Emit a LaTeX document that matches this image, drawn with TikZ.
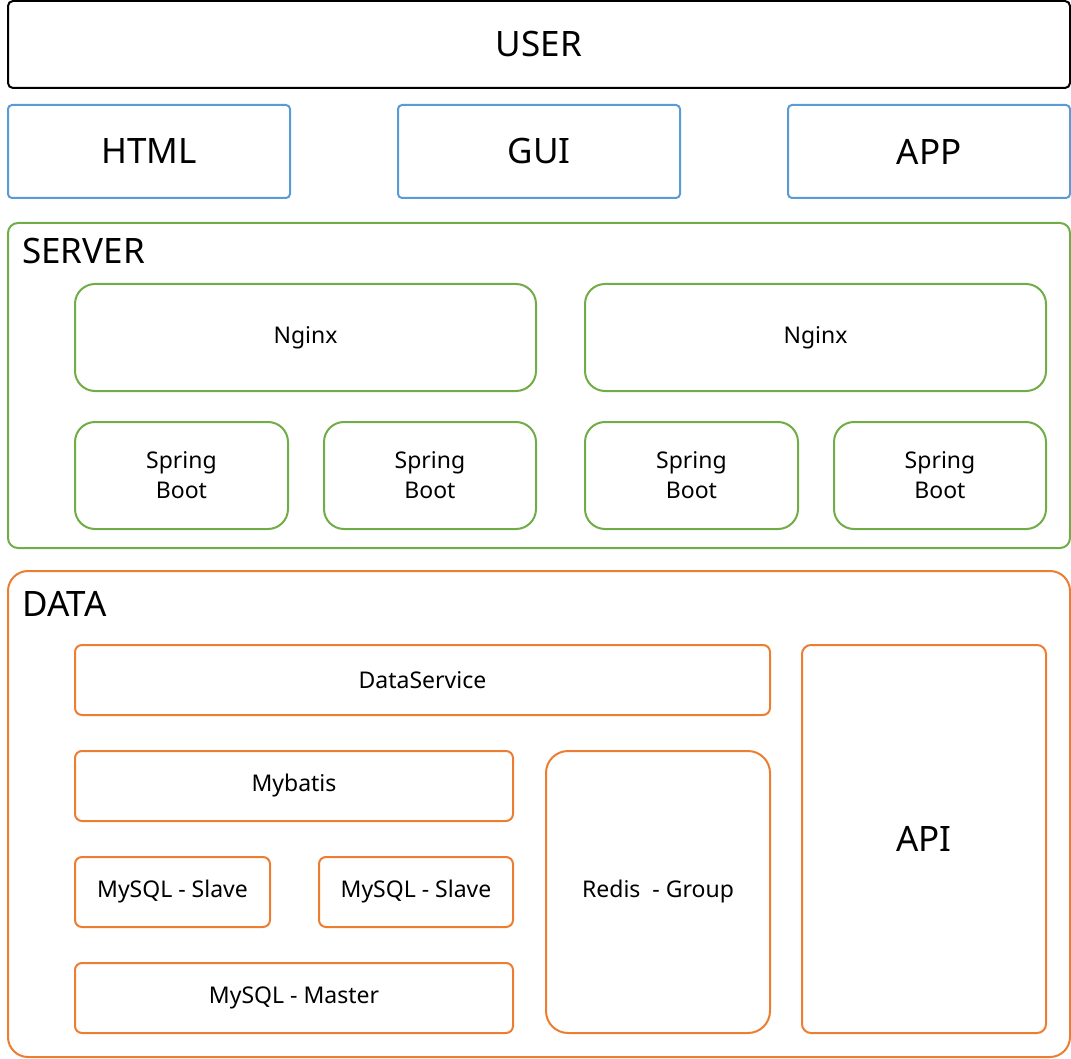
\documentclass[tikz,border=0pt]{standalone}
\usepackage{fontspec}
\setmainfont{Noto Sans}
\usetikzlibrary{positioning}
\definecolor{userblue}{HTML}{5B9BD5}
\definecolor{servgreen}{HTML}{70AD47}
\definecolor{dataorange}{HTML}{ED7D31}
\tikzset{
    layer/.style={
           rectangle,
           draw=black,
           line width=2pt,
           inner sep=0pt,
           text centered,
           font=\fontsize{35}{40}\selectfont,
           },
    client/.style={layer, draw=userblue, rounded corners=4pt},
    group/.style={layer, rounded corners=10pt},
    part/.style={
           rectangle,
           line width=2pt,
           inner sep=0pt,
           align=center,
           font=\fontsize{23}{30}\selectfont,
           },
    srv/.style={part, draw=servgreen, rounded corners=20pt},
    dat/.style={part, draw=dataorange, rounded corners=7pt},
    title/.style={anchor=west, inner sep=0pt, font=\fontsize{35}{40}\selectfont},
}

\begin{document}
\begin{tikzpicture}[x=1pt,y=-1pt]
 \useasboundingbox (0,0) rectangle (1071,1059);

 % user and clients
 \node[layer, rounded corners=5pt, minimum width=1062pt, minimum height=87pt]
   (USER) at (539,44.5) {USER};
 \node[client, minimum width=282pt, minimum height=93pt] (HTML) at (149,151.5) {HTML};
 \node[client, minimum width=282pt, minimum height=93pt] (GUI) at (539,151.5) {GUI};
 \node[client, minimum width=282pt, minimum height=93pt] (APP) at (929,151.5) {APP};

 % server layer
 \node[group, draw=servgreen, minimum width=1062pt, minimum height=325pt]
   (SERVER) at (539,385.5) {};
 \node[title] (SERVERLBL) at (22,251) {SERVER};
 \node[srv, minimum width=461pt, minimum height=107pt] (NGINXA) at (305.5,337.5) {Nginx};
 \node[srv, minimum width=461pt, minimum height=107pt] (NGINXB) at (815.5,337.5) {Nginx};
 \node[srv, minimum width=213pt, minimum height=107pt] (BOOTA) at (181.5,475.5) {Spring\\Boot};
 \node[srv, minimum width=212pt, minimum height=107pt] (BOOTB) at (430,475.5) {Spring\\Boot};
 \node[srv, minimum width=213pt, minimum height=107pt] (BOOTC) at (691.5,475.5) {Spring\\Boot};
 \node[srv, minimum width=212pt, minimum height=107pt] (BOOTD) at (940,475.5) {Spring\\Boot};

 % data layer
 \node[group, draw=dataorange, rounded corners=20pt, minimum width=1062pt, minimum height=486pt]
   (DATA) at (539,814) {};
 \node[title] (DATALBL) at (22,604) {DATA};
 \node[dat, minimum width=695pt, minimum height=70pt] (DATASVC) at (422.5,680) {DataService};
 \node[dat, minimum width=438pt, minimum height=70pt] (MYBATIS) at (294,786) {Mybatis};
 \node[dat, minimum width=195pt, minimum height=70pt] (SLAVEA) at (172.5,892) {MySQL - Slave};
 \node[dat, minimum width=194pt, minimum height=70pt] (SLAVEB) at (416,892) {MySQL - Slave};
 \node[dat, minimum width=438pt, minimum height=70pt] (MASTER) at (294,998) {MySQL - Master};
 \node[dat, rounded corners=22pt, minimum width=224pt, minimum height=282pt]
   (REDIS) at (658,892) {Redis \ - Group};
 \node[dat, rounded corners=9pt, minimum width=244pt, minimum height=388pt,
   font=\fontsize{35}{40}\selectfont] (API) at (924,839) {API};
\end{tikzpicture}
\end{document}
